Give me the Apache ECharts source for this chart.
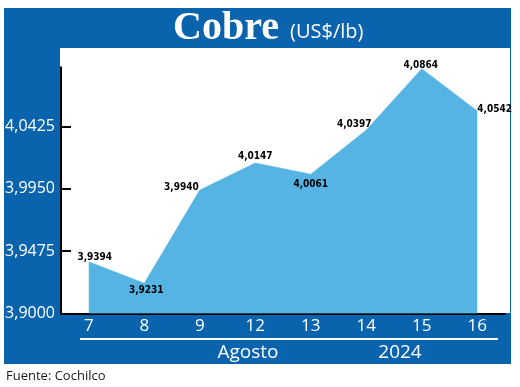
<!DOCTYPE html>
<html>
<head>
<meta charset="utf-8">
<script src="https://cdn.jsdelivr.net/npm/echarts@6/dist/echarts.min.js"></script>
<style>html,body{margin:0;padding:0;background:#fff}#c{width:520px;height:387px}</style>
</head>
<body>
<div id="c"></div>
<script>
const days = ['7', '8', '9', '12', '13', '14', '15', '16'];
const prices = [3.9394, 3.9231, 3.9940, 4.0147, 4.0061, 4.0397, 4.0864, 4.0542];
const yTicks = [3.9000, 3.9475, 3.9950, 4.0425];

// label placement style (not data)
const labelPos = ['top', 'bottom', 'left', 'top', 'bottom', 'top', 'top', 'right'];
const labelOff = [[6, 3], [2, 0], [0, -3], [0, 0], [0, 0], [-12, 0], [-1, 2], [-1, -2]];
const labelDist = [2, 2, 1, 1, 5, 1, 0, 1];

const BLUE = '#0a63ad';
const AREA = '#56b4e4';
const fmt = v => Number(v).toFixed(4).replace('.', ',');

const chart = echarts.init(document.getElementById('c'), null, {renderer: 'canvas'});
chart.setOption({
  animation: false,
  backgroundColor: '#ffffff',
  graphic: {
    elements: [
      {type: 'rect', z: -10, shape: {x: 4, y: 8, width: 507, height: 356}, style: {fill: BLUE}},
      {type: 'rect', z: -9, shape: {x: 60, y: 48, width: 450, height: 265}, style: {fill: '#ffffff'}},
      {type: 'text', z: 10, x: 173, y: 29, style: {text: 'Cobre', fill: '#fff', font: 'bold 40px "Liberation Serif"', verticalAlign: 'middle', align: 'left'}},
      {type: 'text', z: 10, x: 290, y: 32, style: {text: '(US$/lb)', fill: '#fff', font: '20px "Open Sans"', verticalAlign: 'middle', align: 'left'}},
      {type: 'line', z: 10, shape: {x1: 80, y1: 339, x2: 498, y2: 339}, style: {stroke: '#fff', lineWidth: 2}},
      {type: 'text', z: 10, x: 248, y: 353, style: {text: 'Agosto', fill: '#fff', font: '19px "Open Sans"', verticalAlign: 'middle', align: 'center'}},
      {type: 'text', z: 10, x: 400, y: 353, style: {text: '2024', fill: '#fff', font: '19px "Open Sans"', verticalAlign: 'middle', align: 'center'}},
      {type: 'text', z: 10, x: 6, y: 376, style: {text: 'Fuente: Cochilco', fill: '#1a1a1a', font: '13px "Open Sans"', verticalAlign: 'middle', align: 'left'}}
    ]
  },
  grid: {left: 61, right: 15, top: 67.3, bottom: 73.5, containLabel: false},
  xAxis: {
    type: 'category',
    data: days,
    boundaryGap: true,
    axisLine: {show: true, lineStyle: {color: '#000', width: 2}},
    axisTick: {show: false},
    axisLabel: {color: '#fff', fontFamily: 'Open Sans', fontSize: 17, margin: 4}
  },
  yAxis: {
    type: 'value',
    min: 3.9,
    max: 4.0875,
    splitLine: {show: false},
    axisLine: {show: true, lineStyle: {color: '#000', width: 2}},
    axisTick: {show: true, inside: true, length: 10, lineStyle: {color: '#000', width: 2}, customValues: yTicks},
    axisLabel: {color: '#fff', fontFamily: 'Open Sans', fontSize: 16, margin: 6, customValues: yTicks, formatter: fmt}
  },
  series: [{
    type: 'line',
    data: prices.map((v, i) => ({
      value: v,
      label: {position: labelPos[i], offset: labelOff[i], distance: labelDist[i]}
    })),
    symbol: 'circle',
    symbolSize: 0.1,
    showSymbol: true,
    itemStyle: {color: AREA},
    lineStyle: {color: AREA, width: 0.5},
    areaStyle: {color: AREA, opacity: 1},
    label: {
      show: true,
      color: '#000',
      fontFamily: '"DejaVu Sans Condensed", sans-serif',
      fontWeight: 'bold',
      fontSize: 10,
      formatter: p => fmt(p.value)
    },
    z: 3
  }]
});
</script>
</body>
</html>
